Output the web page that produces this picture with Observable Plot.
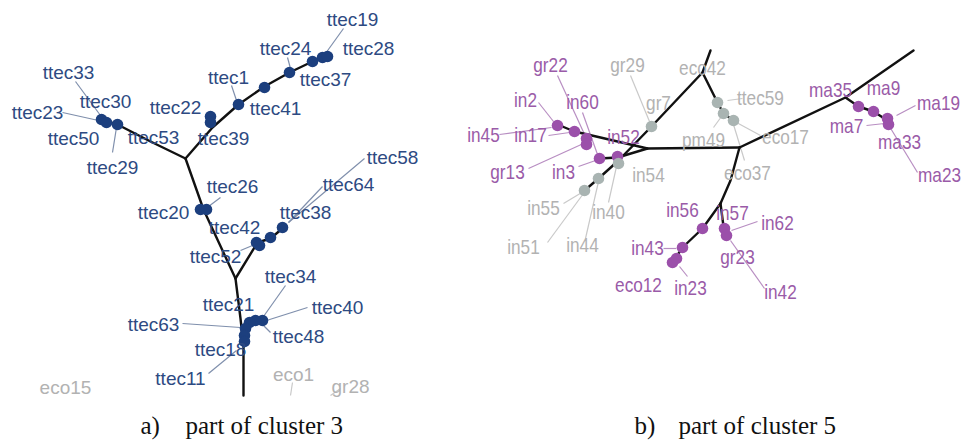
<!DOCTYPE html>
<html>
<head>
<meta charset="utf-8">
<script src="https://cdn.jsdelivr.net/npm/d3@7"></script>
<script src="https://cdn.jsdelivr.net/npm/@observablehq/plot@0.6"></script>
<style>
  html, body { margin: 0; padding: 0; background: #fff; }
  #chart svg { display: block; }
</style>
</head>
<body>
<div id="chart"></div>
<script>
// ---- Data (layout coordinates of the tree drawing) ----
// Tree branches (polylines), panel a and panel b
const branchesA = [
  [[185,158],[150,141],[117,124],[103,120]],
  [[185,158],[212,127],[238,104],[264,86],[289,72],[312,61],[325,56]],
  [[185,158],[203,209],[235,278]],
  [[235,278],[257,242],[270,238],[283,227]],
  [[235,278],[240,318],[243,345],[243,395]]
];
const branchesB = [
  [[710,50],[702,72],[651,126],[618,160],[598,178],[584,190]],
  [[702,72],[717,102],[723,113],[733,120]],
  [[557,124],[574,131],[600,137],[647,148],[739,147]],
  [[599,158],[617,157],[647,148]],
  [[739,147],[845,97],[913,50]],
  [[845,97],[858,106],[873,111],[887,120]],
  [[739,147],[730,180],[720,203]],
  [[720,203],[702,228],[682,247],[672,262]],
  [[720,203],[723,226]]
];
// Leaves: [x, y, group]  group: a = cluster 3 (blue), p = cluster 5 (purple), g = other (grey)
const nodesA = [
  [322,57,"a"],[327,56,"a"],[312,61,"a"],[289,72,"a"],[264,87,"a"],[238,104,"a"],
  [210,116,"a"],[210,122,"a"],[101,119,"a"],[106,122,"a"],[117,124,"a"],
  [200,209,"a"],[206,209,"a"],[256,242,"a"],[259,245,"a"],[270,237,"a"],[282,227,"a"],
  [262,320,"a"],[255,320,"a"],[249,322,"a"],[245,328,"a"],[244,335,"a"],[244,341,"a"]
];
const nodesB = [
  [557,125,"p"],[574,131,"p"],[586,138,"p"],[586,144,"p"],[599,158,"p"],[617,156,"p"],
  [618,163,"g"],[598,178,"g"],[584,190,"g"],[651,126,"g"],
  [717,102,"g"],[723,113,"g"],[733,120,"g"],
  [858,106,"p"],[873,111,"p"],[887,118,"p"],[888,124,"p"],
  [702,228,"p"],[682,247,"p"],[672,262,"p"],[676,258,"p"],[724,228,"p"],[726,235,"p"]
];
// Leaf labels: [text, x, y, group]
const labelsA = [
  ["ttec19",352,19,"a"],["ttec28",368,48,"a"],["ttec24",285,48,"a"],["ttec37",325,79,"a"],
  ["ttec1",228,77,"a"],["ttec41",275,108,"a"],["ttec22",175,107,"a"],["ttec39",223,138,"a"],
  ["ttec33",68,72,"a"],["ttec30",105,101,"a"],["ttec23",37,112,"a"],["ttec50",73,138,"a"],
  ["ttec53",153,137,"a"],["ttec29",112,167,"a"],["ttec26",232,186,"a"],["ttec20",163,212,"a"],
  ["ttec58",392,157,"a"],["ttec64",348,184,"a"],["ttec38",305,212,"a"],["ttec42",234,227,"a"],
  ["ttec52",215,256,"a"],["ttec34",290,276,"a"],["ttec21",228,304,"a"],["ttec40",337,307,"a"],
  ["ttec63",153,324,"a"],["ttec48",298,336,"a"],["ttec18",220,349,"a"],["ttec11",180,378,"a"],
  ["eco15",65,387,"g"],["eco1",293,374,"g"],["gr28",350,386,"g"]
];
const labelsB = [
  ["gr22",550,65,"p"],["gr29",627,65,"g"],["eco42",702,68,"g"],["in2",525,100,"p"],
  ["in60",582,102,"p"],["gr7",658,103,"g"],["ttec59",760,98,"g"],["ma35",830,90,"p"],
  ["ma9",883,88,"p"],["ma19",938,103,"p"],["in45",483,135,"p"],["in17",530,135,"p"],
  ["in52",623,137,"p"],["pm49",703,140,"g"],["eco17",785,137,"g"],["ma7",846,126,"p"],
  ["ma33",899,142,"p"],["gr13",507,172,"p"],["in3",563,172,"p"],["in54",648,175,"g"],
  ["eco37",747,173,"g"],["ma23",939,175,"p"],["in55",543,208,"g"],["in40",608,212,"g"],
  ["in51",523,247,"g"],["in44",582,245,"g"],["in56",682,210,"p"],["in57",732,213,"p"],
  ["in62",777,223,"p"],["in43",647,248,"p"],["gr23",737,257,"p"],["eco12",638,285,"p"],
  ["in23",690,288,"p"],["in42",780,292,"p"]
];
// Label leader lines: [x1, y1, x2, y2, group]
const leadersA = [
  [343,28,325,53,"a"],[287,57,290,68,"a"],[231,85,236,100,"a"],[75,81,100,115,"a"],
  [62,112,98,120,"a"],[112,152,116,127,"a"],[220,197,208,206,"a"],[364,158,288,222,"a"],
  [322,186,288,222,"a"],[240,250,252,245,"a"],[285,285,263,316,"a"],[307,307,266,320,"a"],
  [182,323,240,327,"a"],[263,325,270,332,"a"],[208,373,236,350,"a"],
  [292,382,290,395,"g"],[340,388,330,395,"g"]
];
const leadersB = [
  [557,75,585,136,"p"],[630,75,649,121,"g"],[538,102,553,121,"p"],[582,112,597,154,"p"],
  [499,134,551,127,"p"],[548,135,569,132,"p"],[528,168,583,143,"p"],[578,166,595,160,"p"],
  [563,203,583,191,"g"],[608,202,616,166,"g"],[547,242,583,193,"g"],[585,238,598,181,"g"],
  [727,100,742,98,"g"],[713,127,721,116,"g"],[760,135,736,122,"g"],[744,160,733,124,"g"],
  [866,125,884,123,"p"],[896,115,915,105,"p"],[917,172,889,126,"p"],[663,248,676,248,"p"],
  [757,221,731,230,"p"],[764,288,730,240,"p"],[687,276,679,266,"p"]
];
// Captions: [text, x]
const captions = [["a)",140],["part of cluster 3",185],["b)",634],["part of cluster 5",678]];
const captionY = 425;

// ---- Build tables ----
const branchRows = [...branchesA, ...branchesB].flatMap((pts, i) => pts.map(([x, y]) => ({x, y, id: i})));
const nodeRows = [...nodesA, ...nodesB].map(([x, y, g]) => ({x, y, g}));
const labelRowsA = labelsA.map(([t, x, y, g]) => ({t, x, y, g}));
const labelRowsB = labelsB.map(([t, x, y, g]) => ({t, x, y, g}));
const leaderRows = [...leadersA, ...leadersB].map(([x1, y1, x2, y2, g]) => ({x1, y1, x2, y2, g}));
const captionRows = captions.map(([t, x]) => ({t, x, y: captionY}));

const nodeColor = {a: "#1c3f7e", p: "#9b50aa", g: "#a9b4b2"};
const textColor = {a: "#2d4a82", p: "#9a5ba8", g: "#b2b2b2"};
const leaderColor = {a: "#7f8fac", p: "#b88ec2", g: "#c9c9c9"};

const chart = Plot.plot({
  width: 961,
  height: 440,
  margin: 0,
  style: {background: "#fff"},
  x: {domain: [0, 961], axis: null},
  y: {domain: [0, 440], reverse: true, axis: null},
  marks: [
    Plot.link(leaderRows, {x1: "x1", y1: "y1", x2: "x2", y2: "y2", stroke: d => leaderColor[d.g], strokeWidth: 1.2}),
    Plot.line(branchRows, {x: "x", y: "y", z: "id", stroke: "#111", strokeWidth: 2.4, curve: "linear"}),
    Plot.dot(nodeRows, {x: "x", y: "y", r: 5.8, fill: d => nodeColor[d.g], stroke: "none"}),
    Plot.text(labelRowsA, {x: "x", y: "y", text: "t", fill: d => textColor[d.g], fontSize: 19, fontFamily: "Liberation Sans, Arial, sans-serif"}),
    Plot.text(labelRowsB, {x: "x", y: "y", text: "t", fill: d => textColor[d.g], fontSize: 21, fontFamily: "Liberation Sans, Arial, sans-serif", className: "narrow-labels"}),
    Plot.text(captionRows, {x: "x", y: "y", text: "t", textAnchor: "start", fill: "#111", fontSize: 25, fontFamily: "Liberation Serif, Times New Roman, serif"})
  ]
});
document.getElementById("chart").appendChild(chart);

// Condense panel-b labels horizontally (the reference uses a narrow typeface)
chart.querySelectorAll(".narrow-labels text").forEach(el => {
  const x = +(el.getAttribute("x") || 0);
  const prev = el.getAttribute("transform") || "";
  el.setAttribute("transform", `${prev} translate(${x},0) scale(0.82,1) translate(${-x},0)`.trim());
});
</script>
</body>
</html>
